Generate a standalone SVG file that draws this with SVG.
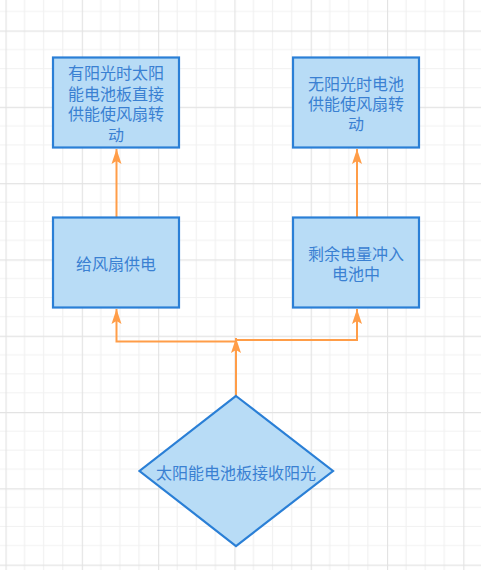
<svg xmlns="http://www.w3.org/2000/svg" width="481" height="570" viewBox="0 0 481 570">
<defs>
<pattern id="grid" patternUnits="userSpaceOnUse" x="5.5" y="30.5" width="76.3" height="76.3">
<path d="M19.075,0 V76.3 M38.15,0 V76.3 M57.225,0 V76.3 M0,19.075 H76.3 M0,38.15 H76.3 M0,57.225 H76.3" stroke="#f1f1f1" stroke-width="1.2" fill="none"/>
<path d="M0.5,0 V76.3 M0,0.5 H76.3" stroke="#e3e3e3" stroke-width="1.3" fill="none"/>
</pattern>
<marker id="arr" markerUnits="userSpaceOnUse" markerWidth="16" markerHeight="12" viewBox="0 0 16 12" refX="15" refY="6" orient="auto">
<path d="M0,1 L15,6 L0,11 L3,6 z" fill="#ff9d48"/>
</marker>
</defs>
<style>
.node{fill:#b8dcf6;stroke:#2a7fd6;stroke-width:2.2}
.lbl{font-family:"Noto Sans CJK SC","Noto Sans",sans-serif;font-size:16px;fill:#3a80d2;text-anchor:middle;dominant-baseline:central}
.edge{fill:none;stroke:#ff9d48;stroke-width:2;marker-end:url(#arr)}
</style>
<rect width="481" height="570" fill="#ffffff"/>
<rect width="481" height="570" fill="url(#grid)"/>
<g id="connectors">
<path class="edge" d="M236,396 L236,338"/>
<path class="edge" d="M236,341.5 L116.5,341.5 L116.5,309"/>
<path class="edge" d="M236,340 L357,340 L357,309"/>
<path class="edge" d="M116.5,217 L116.5,149"/>
<path class="edge" d="M357,217 L357,149"/>
</g>
<g id="node1">
<rect class="node" x="53" y="57.5" width="126" height="90"/>
<text class="lbl"><tspan x="116" y="72">有阳光时太阳</tspan><tspan x="116" y="92.5">能电池板直接</tspan><tspan x="116" y="113">供能使风扇转</tspan><tspan x="116" y="133.5">动</tspan></text>
</g>
<g id="node2">
<rect class="node" x="293" y="57.5" width="126" height="90"/>
<text class="lbl"><tspan x="356" y="82.5">无阳光时电池</tspan><tspan x="356" y="102.5">供能使风扇转</tspan><tspan x="356" y="122.5">动</tspan></text>
</g>
<g id="node3">
<rect class="node" x="53" y="217.5" width="126" height="90"/>
<text class="lbl" x="116" y="263">给风扇供电</text>
</g>
<g id="node4">
<rect class="node" x="293" y="217.5" width="126" height="90"/>
<text class="lbl"><tspan x="356" y="253">剩余电量冲入</tspan><tspan x="356" y="273">电池中</tspan></text>
</g>
<g id="node5">
<polygon class="node" points="236,396 333,471 236,546 139.5,471"/>
<text class="lbl" x="236" y="471.5">太阳能电池板接收阳光</text>
</g>
</svg>
